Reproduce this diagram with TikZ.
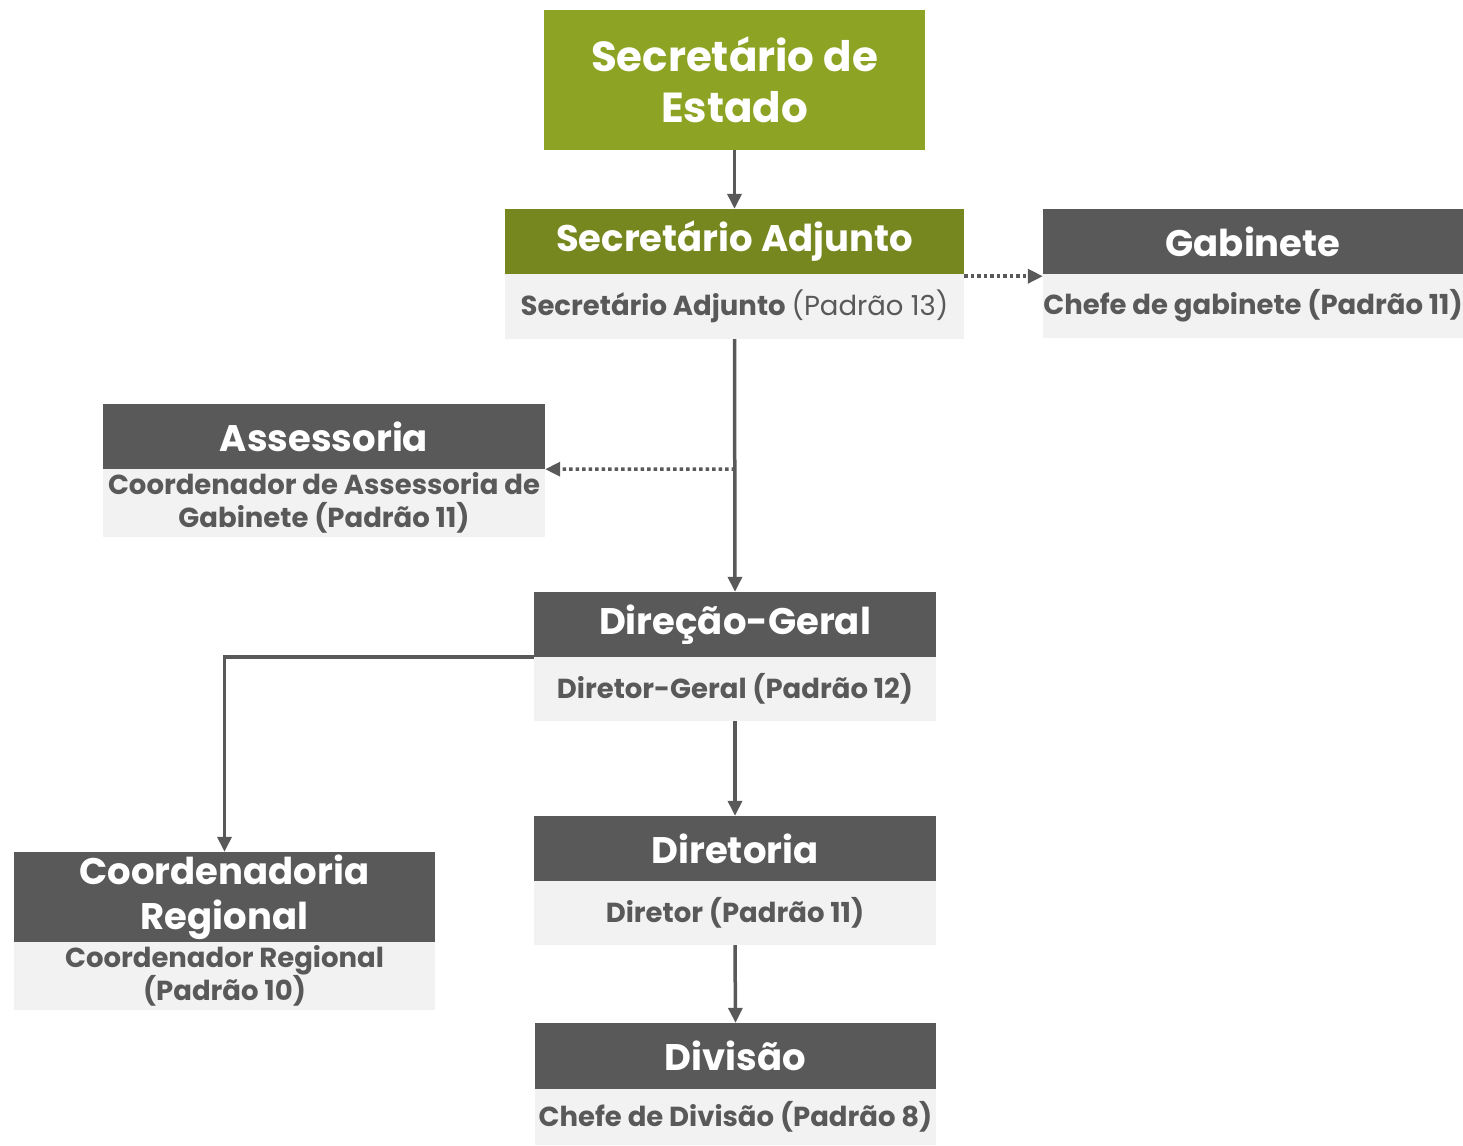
\documentclass[tikz,border=0pt]{standalone}
\usepackage{fontspec}
\setmainfont{Poppins}
\usetikzlibrary{arrows.meta}
\definecolor{lightolive}{RGB}{141,163,36}
\definecolor{darkolive}{RGB}{119,135,32}
\definecolor{boxgray}{RGB}{89,89,89}
\definecolor{subgray}{RGB}{242,242,242}
\definecolor{txtgray}{RGB}{89,89,89}
\tikzset{
  hdr/.style={fill=boxgray, text=white, inner sep=0pt, align=center, font=\fontsize{37}{45}\selectfont\bfseries},
  subbox/.style={fill=subgray, text=txtgray, inner sep=0pt, align=center, font=\fontsize{27.5}{33}\selectfont\bfseries},
  conn/.style={draw=boxgray, line width=3.5pt, -{Triangle[length=15pt,width=14pt]}},
  dconn/.style={draw=boxgray, line width=3.5pt, dash pattern=on 3.5pt off 3pt, -{Triangle[length=15pt,width=14pt]}}
}
\begin{document}
\begin{tikzpicture}[x=1pt,y=-1pt]
\useasboundingbox (0,0) rectangle (1463,1145);
% Secretario de Estado
\node[hdr, fill=lightolive, minimum width=381pt, minimum height=140pt, font=\fontsize{42}{51}\selectfont\bfseries] (est) at (734.5,80) {Secretário de\\Estado};
% Secretario Adjunto
\node[hdr, fill=darkolive, minimum width=459pt, minimum height=65pt] (adjh) at (734.5,241.5) {Secretário Adjunto};
\node[subbox, minimum width=459pt, minimum height=65pt] (adjs) at (734.5,306.5) {Secretário Adjunto \textmd{(Padrão 13)}};
% Gabinete
\node[hdr, minimum width=420pt, minimum height=65pt] (gabh) at (1253,241.5) {Gabinete};
\node[subbox, minimum width=420pt, minimum height=64pt] (gabs) at (1253,306) {Chefe de gabinete (Padrão 11)};
% Assessoria
\node[hdr, minimum width=442pt, minimum height=65pt] (assh) at (324,436.5) {Assessoria};
\node[subbox, minimum width=442pt, minimum height=68pt] (asss) at (324,503) {Coordenador de Assessoria de\\Gabinete (Padrão 11)};
% Direcao-Geral
\node[hdr, minimum width=402pt, minimum height=65pt] (dgh) at (735,624.5) {Direção-Geral};
\node[subbox, minimum width=402pt, minimum height=64pt] (dgs) at (735,689) {Diretor-Geral (Padrão 12)};
% Diretoria
\node[hdr, minimum width=402pt, minimum height=65pt] (dih) at (735,848.5) {Diretoria};
\node[subbox, minimum width=402pt, minimum height=64pt] (dis) at (735,913) {Diretor (Padrão 11)};
% Divisao
\node[hdr, minimum width=401pt, minimum height=66pt] (dvh) at (735.5,1056) {Divisão};
\node[subbox, minimum width=401pt, minimum height=56pt] (dvs) at (735.5,1117) {Chefe de Divisão (Padrão 8)};
% Coordenadoria Regional
\node[hdr, minimum width=421pt, minimum height=90pt, font=\fontsize{37}{45}\selectfont\bfseries] (crh) at (224.5,897) {Coordenadoria\\Regional};
\node[subbox, minimum width=421pt, minimum height=68pt] (crs) at (224.5,976) {Coordenador Regional\\(Padrão 10)};
% connectors
\draw[conn] (est.south) -- (adjh.north);
\draw[conn] (adjs.south) -- (dgh.north);
\coordinate (ajunc) at (735,469);
\draw[dconn] (ajunc) -- (assh.south east);
\draw[dconn] ([yshift=-2pt]adjh.south east) -- ([yshift=-2pt]gabh.south west);
\draw[conn] (dgh.south west) -| (crh.north);
\draw[conn] (dgs.south) -- (dih.north);
\draw[conn] (dis.south) -- (dvh.north);
\end{tikzpicture}
\end{document}
